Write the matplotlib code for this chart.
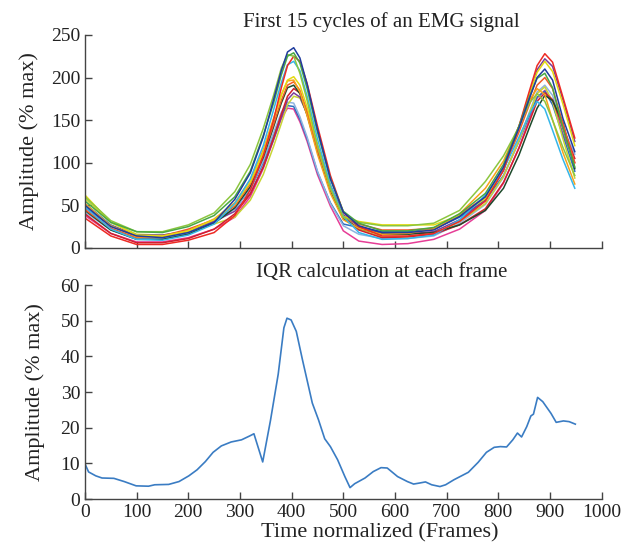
import matplotlib
matplotlib.use("Agg")
import matplotlib.pyplot as plt

frames = [0, 50, 100, 150, 200, 250, 290, 320, 345, 365, 380, 392, 404, 416,
          430, 450, 475, 500, 530, 575, 625, 675, 725, 775, 810, 840, 860, 875,
          890, 905, 925, 948]

cycle_01 = [50, 25, 14, 12, 18, 30, 57, 88, 130, 174, 208, 230, 235, 223, 192, 139,
            81, 42, 26, 18, 18, 21, 37, 60, 95, 141, 175, 200, 210, 197, 152, 113]
cycle_02 = [55, 30, 19, 18, 25, 38, 60, 90, 132, 170, 203, 225, 229, 217, 187, 136,
            81, 43, 29, 20, 20, 24, 40, 64, 98, 143, 177, 199, 205, 188, 140, 95]
cycle_03 = [60, 32, 19, 19, 27, 41, 66, 98, 140, 179, 211, 227, 225, 205, 173, 120,
            70, 36, 30, 26, 26, 29, 44, 78, 108, 142, 170, 181, 172, 150, 118, 85]
cycle_04 = [35, 14, 4, 4, 9, 18, 38, 68, 108, 150, 188, 214, 225, 219, 193, 143,
            85, 42, 25, 14, 14, 17, 31, 55, 91, 143, 184, 214, 228, 218, 177, 129]
cycle_05 = [48, 22, 10, 9, 15, 28, 52, 81, 120, 162, 194, 215, 219, 208, 178, 128,
            74, 37, 18, 10, 11, 15, 33, 62, 92, 130, 157, 172, 163, 138, 104, 70]
cycle_06 = [62, 30, 15, 14, 20, 33, 51, 77, 112, 150, 179, 197, 201, 191, 165, 120,
            71, 37, 31, 27, 27, 27, 38, 58, 92, 142, 181, 206, 219, 207, 169, 120]
cycle_07 = [52, 26, 13, 13, 20, 34, 53, 80, 115, 152, 180, 196, 197, 183, 155, 110,
            64, 33, 23, 16, 17, 22, 40, 70, 102, 143, 173, 187, 180, 150, 112, 75]
cycle_08 = [45, 23, 12, 14, 22, 33, 49, 75, 109, 145, 173, 191, 195, 185, 160, 116,
            69, 37, 28, 21, 21, 23, 39, 60, 93, 136, 168, 191, 200, 187, 146, 100]
cycle_09 = [44, 21, 10, 10, 16, 29, 47, 72, 106, 142, 170, 188, 191, 181, 156, 113,
            67, 34, 23, 16, 16, 18, 27, 44, 70, 109, 141, 164, 179, 173, 147, 93]
cycle_10 = [40, 17, 6, 6, 11, 22, 40, 63, 95, 129, 157, 178, 187, 182, 160, 120,
            72, 37, 21, 12, 13, 16, 27, 46, 77, 117, 148, 172, 182, 174, 141, 105]
cycle_11 = [47, 26, 15, 15, 20, 31, 43, 64, 95, 127, 153, 174, 182, 177, 157, 118,
            73, 39, 25, 17, 17, 19, 33, 56, 91, 141, 180, 209, 222, 213, 174, 125]
cycle_12 = [58, 30, 16, 15, 19, 28, 36, 56, 86, 119, 146, 168, 178, 176, 158, 120,
            74, 38, 22, 13, 13, 16, 31, 52, 84, 126, 158, 181, 189, 172, 128, 82]
cycle_13 = [42, 21, 11, 11, 17, 29, 46, 70, 102, 135, 159, 171, 170, 154, 130, 90,
            52, 26, 16, 11, 11, 14, 29, 51, 83, 127, 159, 183, 191, 179, 141, 110]
cycle_14 = [52, 27, 14, 14, 20, 32, 46, 69, 100, 133, 156, 167, 166, 151, 128, 89,
            53, 28, 24, 19, 19, 22, 36, 56, 85, 125, 155, 177, 184, 168, 132, 90]
cycle_15 = [38, 17, 7, 7, 12, 22, 36, 60, 93, 127, 152, 164, 163, 148, 125, 86,
            49, 20, 8, 4, 5, 10, 22, 44, 76, 118, 151, 176, 185, 172, 134, 100]

cycles = [cycle_15, cycle_14, cycle_13, cycle_12, cycle_11, cycle_10, cycle_09,
          cycle_08, cycle_07, cycle_06, cycle_05, cycle_04, cycle_03, cycle_02,
          cycle_01]
cycle_colors = ["#e63d96", "#2b6fc0", "#8fb3e0", "#c8d435", "#7b3f98", "#d0202e",
                "#1d4a2b", "#f05a28", "#f7a21b", "#e3d912", "#35b6e9", "#ee2a24",
                "#8cc63f", "#4aa844", "#1f3c9e"]

# IQR across cycles
iqr_frames = [0, 7, 21, 33, 56, 76, 99, 123, 135, 162, 182, 201, 217, 233, 248,
              264, 283, 303, 319, 327, 344, 359, 374, 385, 391, 399, 409, 421, 440,
              452, 464, 475, 489, 503, 513, 522, 542, 558, 573, 585, 605, 624, 636,
              648, 659, 671, 687, 698, 714, 726, 742, 761, 777, 792, 804, 816, 828,
              837, 845, 855, 863, 868, 876, 886, 902, 912, 926, 937, 949]
iqr_values = [9.9, 7.6, 6.5, 5.9, 5.8, 4.9, 3.7, 3.6, 4.0, 4.1, 4.9, 6.5, 8.2, 10.5,
              13.1, 14.9, 16.0, 16.6, 17.7, 18.3, 10.4, 22.0, 35.0, 48.0, 50.7, 50.2,
              47.0, 39.0, 26.9, 22.2, 16.9, 14.7, 11.0, 6.3, 3.2, 4.3, 5.9, 7.7, 8.8,
              8.7, 6.3, 4.9, 4.2, 4.5, 4.8, 4.0, 3.5, 4.0, 5.4, 6.3, 7.5, 10.3, 13.1,
              14.5, 14.7, 14.6, 16.6, 18.5, 17.4, 20.3, 23.3, 23.8, 28.5, 27.3, 24.0,
              21.5, 21.9, 21.7, 21.0]

serif = ["Liberation Serif", "DejaVu Serif"]
plt.rcParams["font.family"] = serif
text_color = "#222222"

fig = plt.figure(figsize=(6.34, 5.46), dpi=100)
ax1 = fig.add_axes([0.134, 0.546, 0.815, 0.390])
ax2 = fig.add_axes([0.134, 0.086, 0.815, 0.392])

for values, color in zip(cycles, cycle_colors):
    ax1.plot(frames, values, color=color, lw=1.1)

ax2.plot(iqr_frames, iqr_values, color="#3a7cc3", lw=1.2)

for ax in (ax1, ax2):
    ax.set_xlim(0, 1000)
    ax.set_xticks(range(0, 1001, 100))
    ax.spines["top"].set_visible(False)
    ax.spines["right"].set_visible(False)
    for side in ("left", "bottom"):
        ax.spines[side].set_color("#444444")
        ax.spines[side].set_linewidth(1.0)
    ax.tick_params(direction="in", length=5, width=1.0, colors="#444444",
                   labelcolor=text_color, labelsize=14)
    ax.set_ylabel("Amplitude (% max)", fontsize=16, color=text_color)

ax1.set_ylim(0, 250)
ax1.set_yticks(range(0, 251, 50))
ax1.tick_params(axis="x", labelbottom=False)
ax1.set_title("First 15 cycles of an EMG signal", fontsize=15, color=text_color,
              x=0.574, pad=6)
ax1.yaxis.set_label_coords(-0.088, 0.5)

ax2.set_ylim(0, 60)
ax2.set_yticks(range(0, 61, 10))
ax2.set_title("IQR calculation at each frame", fontsize=15, color=text_color,
              x=0.574, pad=6)
ax2.set_xlabel("Time normalized (Frames)", fontsize=16, color=text_color,
               x=0.57, labelpad=2)
ax2.yaxis.set_label_coords(-0.078, 0.5)

fig.savefig("out.png", dpi=100)
